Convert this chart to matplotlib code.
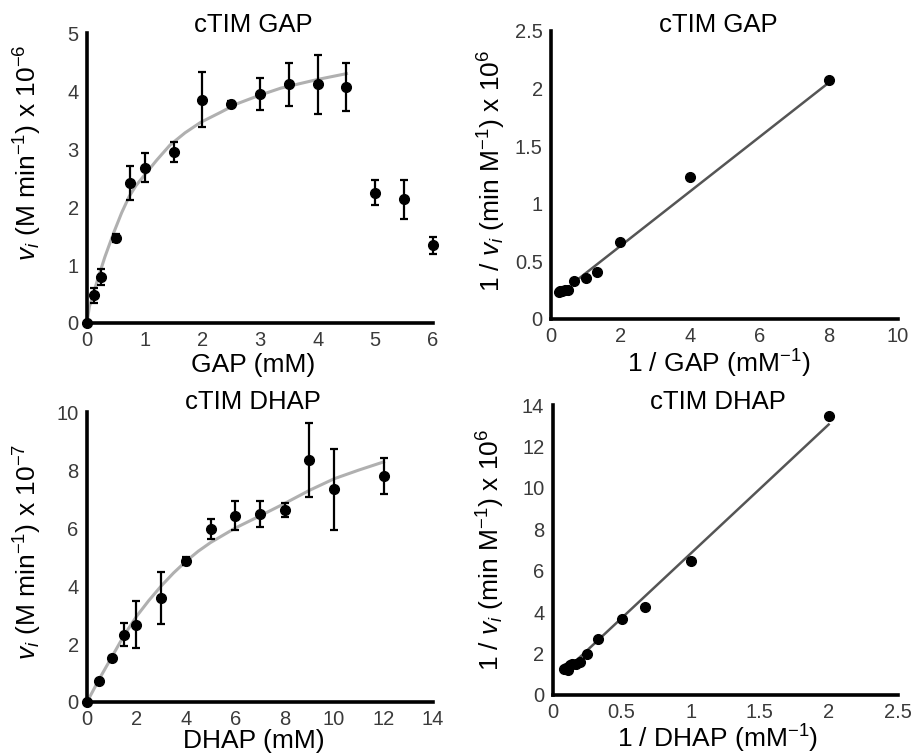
import matplotlib
matplotlib.use('Agg')
import matplotlib.pyplot as plt

plt.rcParams['font.family'] = ['Liberation Sans', 'DejaVu Sans']
plt.rcParams['mathtext.fontset'] = 'custom'
plt.rcParams['mathtext.rm'] = 'Liberation Sans'
plt.rcParams['mathtext.it'] = 'Liberation Sans:italic'

# --- cTIM GAP, Michaelis-Menten ---
gap_mM = [0, 0.125, 0.25, 0.5, 0.75, 1, 1.5, 2, 2.5, 3, 3.5, 4, 4.5, 5, 5.5, 6]
gap_v = [0, 0.48, 0.79, 1.46, 2.41, 2.68, 2.95, 3.85, 3.77, 3.95, 4.12, 4.12, 4.07, 2.25, 2.13, 1.34]
gap_err = [0, 0.13, 0.14, 0.07, 0.29, 0.25, 0.17, 0.47, 0.05, 0.27, 0.37, 0.51, 0.42, 0.21, 0.34, 0.15]
gap_fit_x = [0, 0.04, 0.11, 0.2, 0.31, 0.46, 0.6, 0.73, 0.85, 0.98, 1.21, 1.44, 1.7, 1.97,
             2.31, 2.6, 3.0, 3.36, 3.7, 4.0, 4.25, 4.5]
gap_fit_y = [0, 0.28, 0.51, 0.8, 1.14, 1.55, 1.9, 2.18, 2.37, 2.53, 2.81, 3.07, 3.28, 3.46,
             3.63, 3.78, 3.93, 4.05, 4.13, 4.2, 4.25, 4.3]

# --- cTIM GAP, Lineweaver-Burk ---
inv_gap = [8, 4, 2, 1.33, 1, 0.67, 0.5, 0.4, 0.33, 0.29, 0.25, 0.22]
inv_v_gap = [2.07, 1.23, 0.67, 0.41, 0.36, 0.33, 0.25, 0.25, 0.24, 0.24, 0.24, 0.23]
gap_line_x = [0.8, 8]
gap_line_y = [0.35, 2.05]

# --- cTIM DHAP, Michaelis-Menten ---
dhap_mM = [0, 0.5, 1, 1.5, 2, 3, 4, 5, 6, 7, 8, 9, 10, 12]
dhap_v = [0, 0.72, 1.52, 2.32, 2.67, 3.59, 4.86, 5.97, 6.43, 6.48, 6.63, 8.36, 7.33, 7.8]
dhap_err = [0, 0.05, 0.05, 0.4, 0.82, 0.89, 0.15, 0.34, 0.49, 0.46, 0.24, 1.28, 1.4, 0.63]
dhap_fit_x = [0, 0.5, 1, 1.5, 2, 2.5, 3, 3.5, 4, 4.5, 5, 6, 7, 8, 9, 10, 11, 12]
dhap_fit_y = [0, 0.8, 1.55, 2.3, 2.95, 3.5, 4.0, 4.45, 4.85, 5.2, 5.5, 6.0, 6.42, 6.85, 7.3, 7.7, 8.0, 8.28]

# --- cTIM DHAP, Lineweaver-Burk ---
inv_dhap = [2, 1, 0.67, 0.5, 0.33, 0.25, 0.2, 0.167, 0.143, 0.125, 0.111, 0.1, 0.083]
inv_v_dhap = [13.45, 6.49, 4.24, 3.66, 2.69, 1.98, 1.61, 1.5, 1.48, 1.45, 1.2, 1.3, 1.25]
dhap_line_x = [0.1, 2.0]
dhap_line_y = [1.22, 13.06]

# tick labels
gap_xticks = [0, 1, 2, 3, 4, 5, 6]
gap_yticks = [0, 1, 2, 3, 4, 5]
lb_gap_xticks = [0, 2, 4, 6, 8, 10]
lb_gap_yticks = [0, 0.5, 1, 1.5, 2, 2.5]
lb_gap_yticklabels = ['0', '0.5', '1', '1.5', '2', '2.5']
dhap_xticks = [0, 2, 4, 6, 8, 10, 12, 14]
dhap_yticks = [0, 2, 4, 6, 8, 10]
lb_dhap_xticks = [0, 0.5, 1, 1.5, 2, 2.5]
lb_dhap_xticklabels = ['0', '0.5', '1', '1.5', '2', '2.5']
lb_dhap_yticks = [0, 2, 4, 6, 8, 10, 12, 14]

fig = plt.figure(figsize=(9.2, 7.55), dpi=100)
ax1 = fig.add_axes([0.0946, 0.5722, 0.376, 0.384])
ax2 = fig.add_axes([0.5989, 0.5775, 0.3772, 0.3815])
ax3 = fig.add_axes([0.0946, 0.0702, 0.376, 0.384])
ax4 = fig.add_axes([0.6007, 0.0795, 0.375, 0.384])

title_fs = 18.5
label_fs = 19
tick_fs = 14.5


def style(ax, xlim, ylim, xticks, yticks):
    ax.set_xlim(*xlim)
    ax.set_ylim(*ylim)
    ax.set_xticks(xticks)
    ax.set_yticks(yticks)
    for s in ['top', 'right']:
        ax.spines[s].set_visible(False)
    for s in ['left', 'bottom']:
        ax.spines[s].set_linewidth(2.6)
        ax.spines[s].set_color('black')
    ax.tick_params(length=0, labelsize=tick_fs, colors='#3a3a3a', pad=6)


def mm_plot(ax, x, y, err, fx, fy):
    ax.plot(fx, fy, color='#b0b0b0', lw=2.2, zorder=2, clip_on=False)
    ax.errorbar(x, y, yerr=err, fmt='o', color='black', ms=7, elinewidth=1.6,
                capsize=2.8, capthick=1.6, zorder=3, clip_on=False)


def lb_plot(ax, x, y, lx, ly):
    ax.plot(lx, ly, color='#555555', lw=1.8, zorder=2)
    ax.plot(x, y, 'o', color='black', ms=7, zorder=3, clip_on=False)


# 1 - GAP MM
mm_plot(ax1, gap_mM, gap_v, gap_err, gap_fit_x, gap_fit_y)
style(ax1, (0, 6), (0, 5), gap_xticks, gap_yticks)
ax1.text(0.48, 1.028, 'cTIM GAP', transform=ax1.transAxes, ha='center', va='center', fontsize=title_fs)
ax1.set_xlabel('GAP (mM)', fontsize=label_fs, va='center')
ax1.xaxis.set_label_coords(0.48, -0.145)
ax1.set_ylabel(r'$v_i$ (M min$^{-1}$) x 10$^{-6}$', fontsize=label_fs, va='center')
ax1.yaxis.set_label_coords(-0.17, 0.586)

# 2 - GAP Lineweaver-Burk
lb_plot(ax2, inv_gap, inv_v_gap, gap_line_x, gap_line_y)
style(ax2, (0, 10), (0, 2.5), lb_gap_xticks, lb_gap_yticks)
ax2.set_yticklabels(lb_gap_yticklabels)
ax2.text(0.481, 1.02, 'cTIM GAP', transform=ax2.transAxes, ha='center', va='center', fontsize=title_fs)
ax2.set_xlabel('1 / GAP (mM$^{-1}$)', fontsize=label_fs, va='center')
ax2.xaxis.set_label_coords(0.484, -0.155)
ax2.set_ylabel(r'1 / $v_i$ (min M$^{-1}$) x 10$^{6}$', fontsize=label_fs, va='center')
ax2.yaxis.set_label_coords(-0.17, 0.516)

# 3 - DHAP MM
mm_plot(ax3, dhap_mM, dhap_v, dhap_err, dhap_fit_x, dhap_fit_y)
style(ax3, (0, 14), (0, 10), dhap_xticks, dhap_yticks)
ax3.text(0.48, 1.034, 'cTIM DHAP', transform=ax3.transAxes, ha='center', va='center', fontsize=title_fs)
ax3.set_xlabel('DHAP (mM)', fontsize=label_fs, va='center')
ax3.xaxis.set_label_coords(0.483, -0.135)
ax3.set_ylabel(r'$v_i$ (M min$^{-1}$) x 10$^{-7}$', fontsize=label_fs, va='center')
ax3.yaxis.set_label_coords(-0.17, 0.517)

# 4 - DHAP Lineweaver-Burk
lb_plot(ax4, inv_dhap, inv_v_dhap, dhap_line_x, dhap_line_y)
style(ax4, (0, 2.5), (0, 14), lb_dhap_xticks, lb_dhap_yticks)
ax4.set_xticklabels(lb_dhap_xticklabels)
ax4.text(0.478, 1.01, 'cTIM DHAP', transform=ax4.transAxes, ha='center', va='center', fontsize=title_fs)
ax4.set_xlabel('1 / DHAP (mM$^{-1}$)', fontsize=label_fs, va='center')
ax4.xaxis.set_label_coords(0.478, -0.152)
ax4.set_ylabel(r'1 / $v_i$ (min M$^{-1}$) x 10$^{6}$', fontsize=label_fs, va='center')
ax4.yaxis.set_label_coords(-0.18, 0.5)

fig.savefig('out.png', dpi=100)
